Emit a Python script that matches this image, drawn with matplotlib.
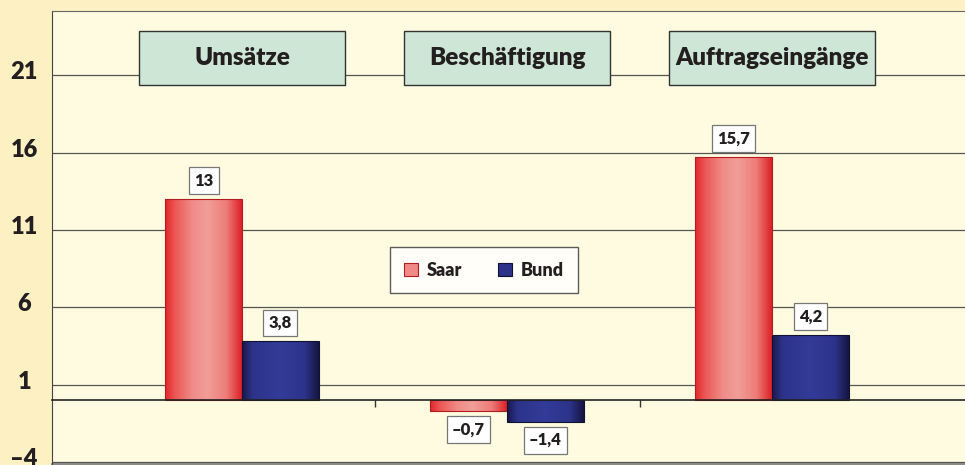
import numpy as np
import matplotlib
matplotlib.use("Agg")
import matplotlib.pyplot as plt
from matplotlib.colors import LinearSegmentedColormap
from matplotlib.patches import Rectangle
from matplotlib.transforms import ScaledTranslation

# data
categories = ["Umsätze", "Beschäftigung", "Auftragseingänge"]
series_names = ["Saar", "Bund"]
saar = [13, -0.7, 15.7]
bund = [3.8, -1.4, 4.2]
yticks = [-4, 1, 6, 11, 16, 21]

BG_OUT = "#fdf0c2"; BG_IN = "#fffbe0"; INK = "#231f20"; BOX = "#cde6d6"
plt.rcParams["font.family"] = ["Lato", "DejaVu Sans"]

red_cmap = LinearSegmentedColormap.from_list(
    "saar", [(0, "#e2252a"), (0.12, "#eb5553"), (0.35, "#f08a86"), (0.55, "#f19e98"),
             (0.8, "#ee7c78"), (1, "#dc2126")])
blue_cmap = LinearSegmentedColormap.from_list(
    "bund", [(0, "#18184c"), (0.13, "#2c3389"), (0.5, "#333b99"), (0.82, "#2c3389"),
             (1, "#151540")])
grad = np.linspace(0, 1, 256).reshape(1, -1)


def fmt(v):
    s = f"{abs(v):g}".replace(".", ",")
    return ("–" + s) if v < 0 else s


fig = plt.figure(figsize=(9.65, 4.65), dpi=100, facecolor=BG_OUT)
ax = fig.add_axes([52 / 965, 1 / 465, 1 - 52 / 965, 453 / 465], facecolor=BG_IN)

x = np.arange(len(categories))
w = 0.29
bars_s = ax.bar(x - w / 2, saar, w, facecolor="none", edgecolor="#b01c20", lw=0.8, zorder=4)
bars_b = ax.bar(x + w / 2, bund, w, facecolor="none", edgecolor="#111133", lw=0.8, zorder=4)

for bars, cmap in [(bars_s, red_cmap), (bars_b, blue_cmap)]:
    for b in bars:
        im = ax.imshow(grad, cmap=cmap, aspect="auto", interpolation="bicubic", zorder=3,
                       extent=[b.get_x(), b.get_x() + b.get_width(),
                               b.get_y(), b.get_y() + b.get_height()])
        im.set_clip_path(b)

# value labels
for bars, vals in [(bars_s, saar), (bars_b, bund)]:
    for b, v in zip(bars, vals):
        up = v >= 0
        ax.annotate(fmt(v), (b.get_x() + b.get_width() / 2, v),
                    xytext=(0, 7.5 if up else -7.5), textcoords="offset points",
                    ha="center", va="bottom" if up else "top",
                    fontsize=12, fontweight="heavy", color=INK, zorder=7,
                    bbox=dict(boxstyle="square,pad=0.32", fc="white", ec="#777777", lw=0.9))

# category header boxes
for i, cat in enumerate(categories):
    ax.add_patch(Rectangle((i - 0.39, 20.37), 0.78, 3.46, fc=BOX, ec="#333333",
                           lw=1.0, zorder=5))
    ax.text(i, 22.1, cat, ha="center", va="center", fontsize=17.5, fontweight="heavy",
            color=INK, zorder=6)

ax.set_xlim(-0.717, 2.728)
ax.set_ylim(-4.13, 25.15)

ax.set_yticks(yticks, labels=[fmt(t) for t in yticks])
ax.tick_params(axis="y", length=0, pad=20, labelsize=17, labelcolor=INK)
lift = ScaledTranslation(0, 3.5 / 72, fig.dpi_scale_trans)
for lab in ax.get_yticklabels():
    lab.set_horizontalalignment("center")
    lab.set_fontweight("heavy")
    lab.set_transform(lab.get_transform() + lift)
ax.yaxis.grid(True, color="#555555", lw=0.9, zorder=1)
ax.set_axisbelow(True)

# zero line with category separators
ax.spines["bottom"].set_position(("data", 0))
ax.spines["bottom"].set_color("#222222")
ax.spines["bottom"].set_linewidth(1.2)
ax.spines["bottom"].set_zorder(4)
ax.set_xticks([0.5, 1.5], labels=["", ""])
ax.tick_params(axis="x", direction="out", length=5, width=1, color="#333333")
ax.plot([0, 1], [0, 0], transform=ax.transAxes, color="#777777", lw=1.2, clip_on=False)
ax.spines["left"].set_color("#444444")
ax.spines["top"].set_color("#666666")
ax.spines["right"].set_visible(False)

leg_handles = [Rectangle((0, 0), 1, 1, fc="#f08a86", ec="#b01c20", lw=0.8),
               Rectangle((0, 0), 1, 1, fc="#2c3389", ec="#111133", lw=0.8)]
leg = ax.legend(leg_handles, series_names, loc="center", bbox_to_anchor=(0.473, 0.428),
                ncol=2, frameon=True, fancybox=False, handlelength=0.75, handleheight=0.75,
                handletextpad=0.5, columnspacing=2.0, borderpad=0.8,
                prop={"size": 13, "weight": "heavy"})
leg.get_frame().set_edgecolor("#333333")
leg.get_frame().set_linewidth(1.0)
leg.set_zorder(8)
for t in leg.get_texts():
    t.set_color(INK)

fig.savefig("out.png", dpi=100, facecolor=BG_OUT)
